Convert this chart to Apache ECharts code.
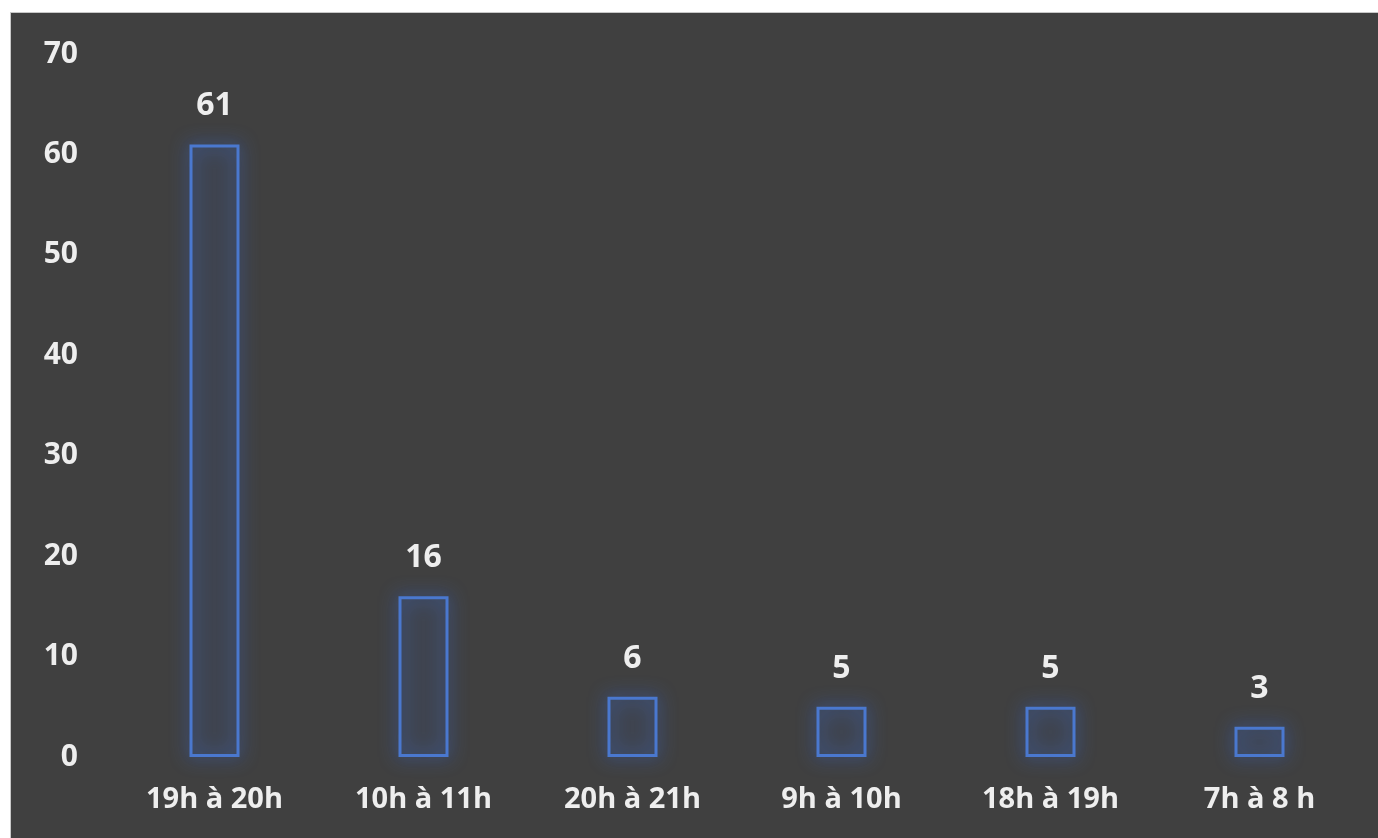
<!DOCTYPE html>
<html><head><meta charset="utf-8">
<script src="https://cdn.jsdelivr.net/npm/echarts@6/dist/echarts.min.js"></script>
<style>
html,body{margin:0;padding:0;background:#fff;width:1378px;height:838px;overflow:hidden}
#c{position:absolute;left:10px;top:12px;width:1368px;height:826px;background:#404040;border-left:1px solid #c8c8c8;border-top:1px solid #c8c8c8;box-sizing:border-box}
</style></head><body>
<div id="c"></div>
<script>
const categories = ['19h à 20h','10h à 11h','20h à 21h','9h à 10h','18h à 19h','7h à 8 h'];
const values = [61,16,6,5,5,3];
const yTicks = {min:0,max:70,interval:10};

const chart = echarts.init(document.getElementById('c'));
const font = '"Open Sans", "Noto Sans", sans-serif';
chart.setOption({
  backgroundColor:'#404040',
  grid:{left:99,right:14,top:41,bottom:81,containLabel:false},
  xAxis:{type:'category',data:categories,
    axisLine:{show:false},axisTick:{show:false},
    axisLabel:{color:'#eeeeee',fontFamily:font,fontWeight:'bold',fontSize:29,margin:28}},
  yAxis:{type:'value',min:yTicks.min,max:yTicks.max,interval:yTicks.interval,
    splitLine:{show:false},axisLine:{show:false},axisTick:{show:false},
    axisLabel:{color:'#eeeeee',fontFamily:font,fontWeight:'bold',fontSize:30,margin:32}},
  series:[{type:'bar',data:values,barWidth:50,
    itemStyle:{color:'rgba(68,114,196,0.06)',borderColor:'#4a78cf',borderWidth:3,
      shadowBlur:18,shadowColor:'rgba(60,110,220,1)'},
    label:{show:true,position:'top',distance:22,color:'#eeeeee',fontFamily:font,fontWeight:'bold',fontSize:32}
  }]
});
</script></body></html>
